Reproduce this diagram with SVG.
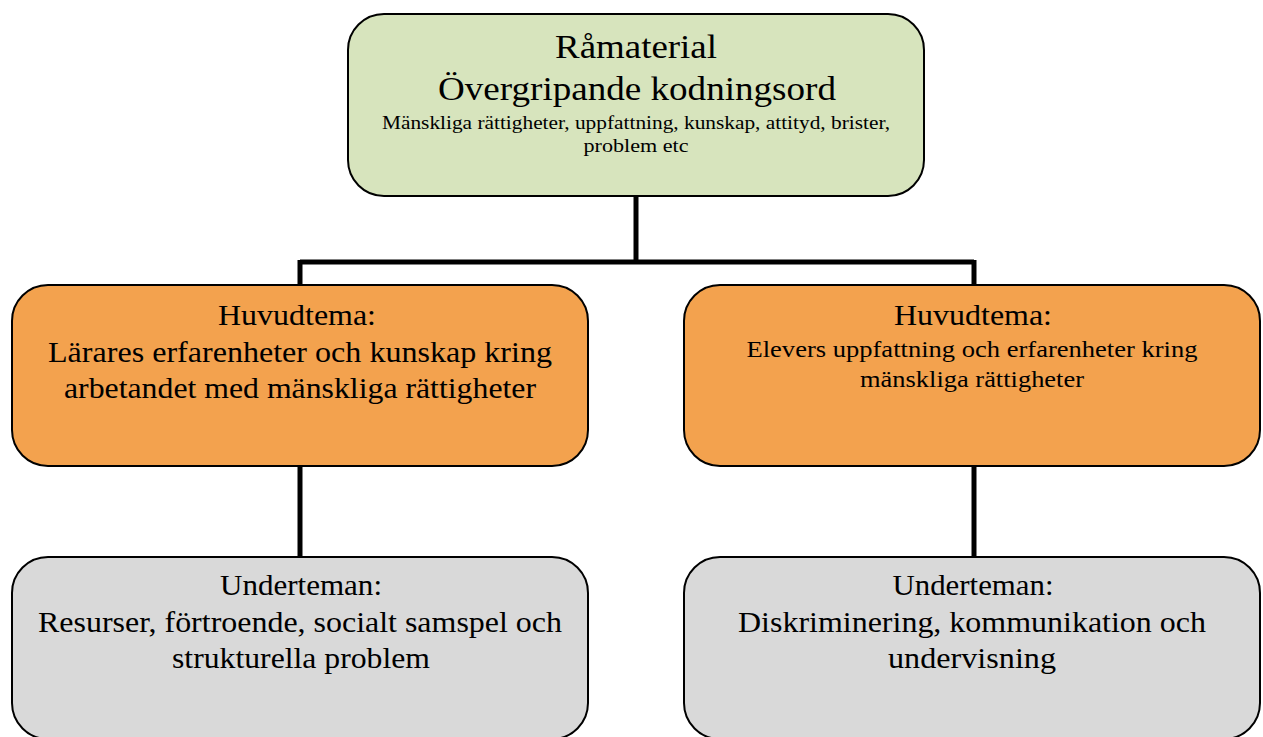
<svg xmlns="http://www.w3.org/2000/svg" width="1263" height="737" viewBox="0 0 1263 737">
<style>
.box{stroke:#000;stroke-width:2}
.green{fill:#d7e4bd}
.orange{fill:#f3a24e}
.gray{fill:#d9d9d9}
text{font-family:"Liberation Serif","Times New Roman",serif;fill:#000;text-anchor:middle}
.conn{stroke:#000;fill:none;stroke-width:5}
</style>
<rect width="1263" height="737" fill="#fff"/>
<g id="connectors">
<path class="conn" d="M636 196 V262"/>
<path class="conn" d="M300 262 H974" stroke-width="7"/>
<path class="conn" d="M300 260 V286"/>
<path class="conn" d="M974 260 V286"/>
<path class="conn" d="M300 466 V558"/>
<path class="conn" d="M974 466 V558"/>
</g>
<g id="root">
<rect class="box green" x="348" y="14" width="576" height="182" rx="36"/>
<text x="636" y="58" font-size="34" textLength="162" lengthAdjust="spacingAndGlyphs">Råmaterial</text>
<text x="637" y="100" font-size="34" textLength="398" lengthAdjust="spacingAndGlyphs">Övergripande kodningsord</text>
<text x="636" y="129" font-size="19" textLength="508" lengthAdjust="spacingAndGlyphs">Mänskliga rättigheter, uppfattning, kunskap, attityd, brister,</text>
<text x="636" y="152" font-size="19" textLength="105" lengthAdjust="spacingAndGlyphs">problem etc</text>
</g>
<g id="main1">
<rect class="box orange" x="12" y="285" width="576" height="181" rx="36"/>
<text x="297" y="325" font-size="30" textLength="158" lengthAdjust="spacingAndGlyphs">Huvudtema:</text>
<text x="300" y="362" font-size="30" textLength="504" lengthAdjust="spacingAndGlyphs">Lärares erfarenheter och kunskap kring</text>
<text x="300" y="398" font-size="30" textLength="472" lengthAdjust="spacingAndGlyphs">arbetandet med mänskliga rättigheter</text>
</g>
<g id="main2">
<rect class="box orange" x="684" y="285" width="576" height="181" rx="36"/>
<text x="973" y="325" font-size="30" textLength="158" lengthAdjust="spacingAndGlyphs">Huvudtema:</text>
<text x="972" y="357" font-size="24" textLength="451" lengthAdjust="spacingAndGlyphs">Elevers uppfattning och erfarenheter kring</text>
<text x="972" y="387" font-size="24" textLength="224" lengthAdjust="spacingAndGlyphs">mänskliga rättigheter</text>
</g>
<g id="sub1">
<rect class="box gray" x="12" y="557" width="576" height="182" rx="36"/>
<text x="301" y="595" font-size="30" textLength="162" lengthAdjust="spacingAndGlyphs">Underteman:</text>
<text x="300" y="632" font-size="30" textLength="524" lengthAdjust="spacingAndGlyphs">Resurser, förtroende, socialt samspel och</text>
<text x="301" y="668" font-size="30" textLength="258" lengthAdjust="spacingAndGlyphs">strukturella problem</text>
</g>
<g id="sub2">
<rect class="box gray" x="684" y="557" width="576" height="182" rx="36"/>
<text x="973" y="595" font-size="30" textLength="161" lengthAdjust="spacingAndGlyphs">Underteman:</text>
<text x="972" y="632" font-size="30" textLength="468" lengthAdjust="spacingAndGlyphs">Diskriminering, kommunikation och</text>
<text x="972" y="668" font-size="30" textLength="168" lengthAdjust="spacingAndGlyphs">undervisning</text>
</g>
</svg>
